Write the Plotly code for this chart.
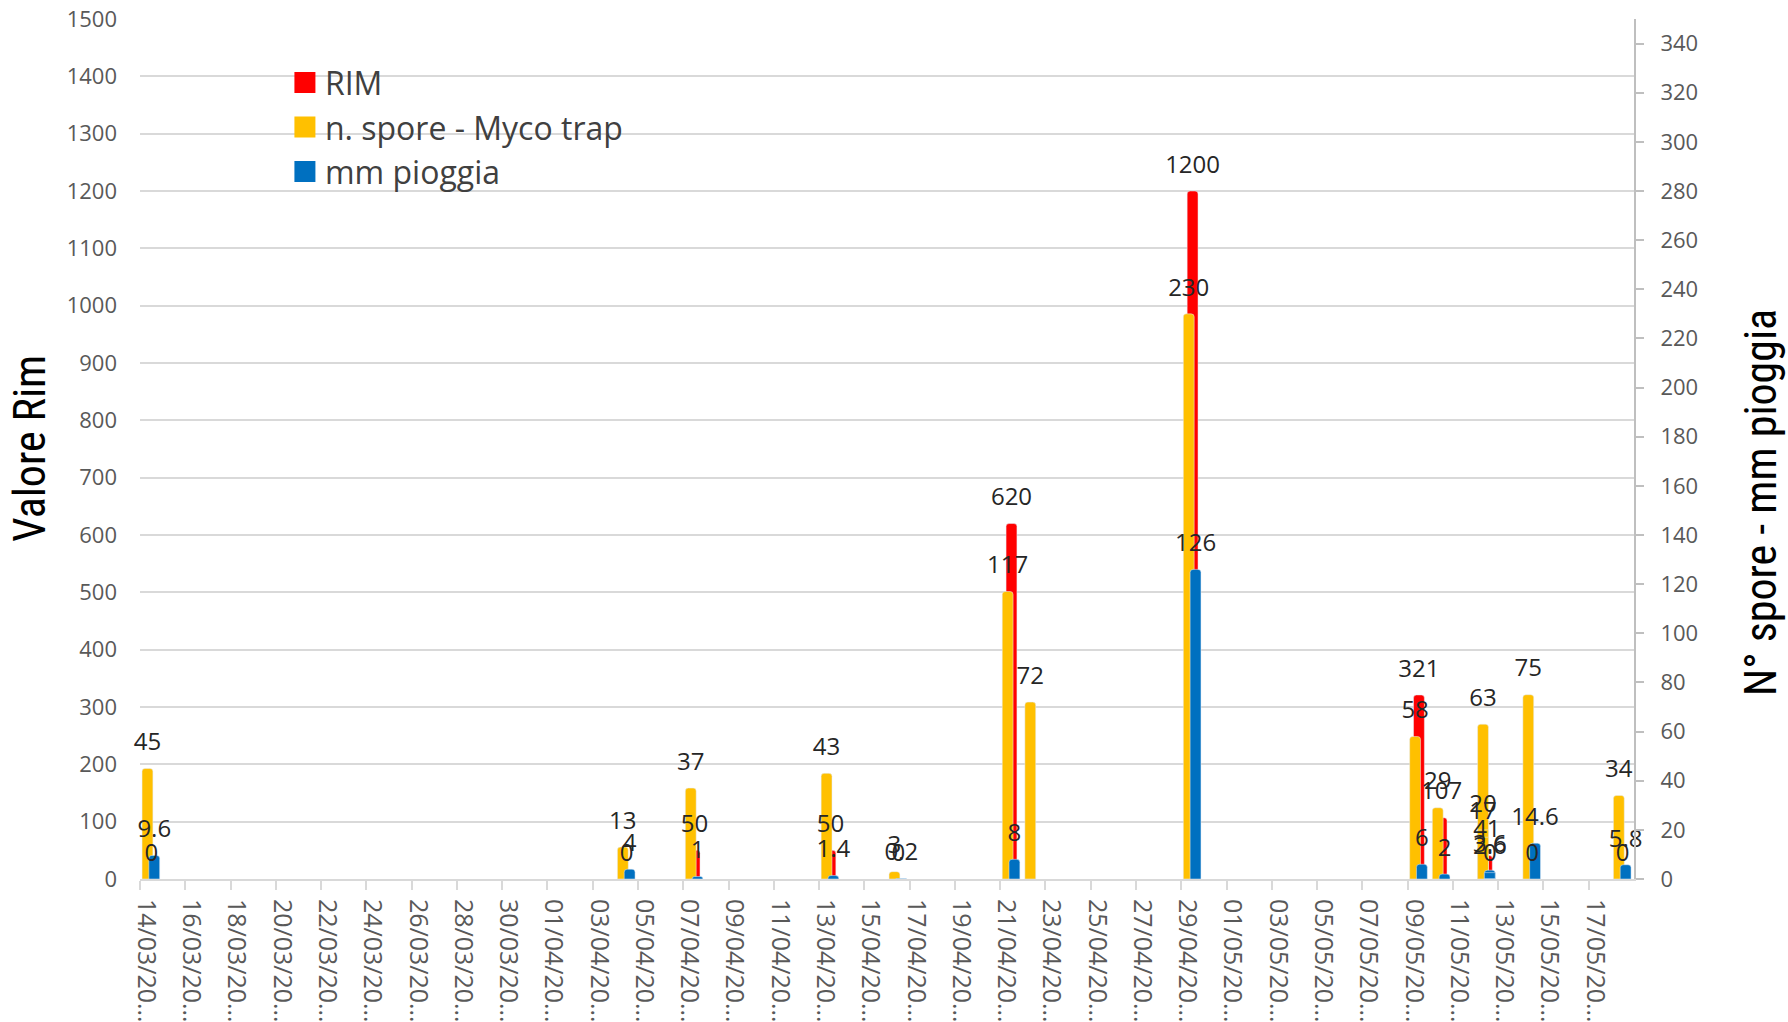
import pandas as pd
import plotly.graph_objects as go

# ---------------- data ----------------
dates = ["2020-03-14", "2020-04-04", "2020-04-07", "2020-04-13", "2020-04-16",
         "2020-04-21", "2020-04-22", "2020-04-29", "2020-05-09", "2020-05-10",
         "2020-05-12", "2020-05-12", "2020-05-12", "2020-05-14", "2020-05-18"]
rim = [0, 0, 50, 50, 0, 620, None, 1200, 321, 107, 41, None, None, 0, 0]
spore = [45, 13, 37, 43, 3, 117, 72, 230, 58, 29, 63, 20, 17, 75, 34]
rain = [9.6, 4, 1, 1.4, 0.2, 8, None, 126, 6, 2, 3.6, 2.6, 0, 14.6, 5.8]

tick_days = ["14/03", "16/03", "18/03", "20/03", "22/03", "24/03", "26/03", "28/03",
             "30/03", "01/04", "03/04", "05/04", "07/04", "09/04", "11/04", "13/04",
             "15/04", "17/04", "19/04", "21/04", "23/04", "25/04", "27/04", "29/04",
             "01/05", "03/05", "05/05", "07/05", "09/05", "11/05", "13/05", "15/05",
             "17/05"]
tick_labels = [d + "/20\u2026" for d in tick_days]
tick_vals = [pd.Timestamp(f"2020-{d[3:5]}-{d[0:2]}") for d in tick_days]

x_start, x_end = "2020-03-14", "2020-05-19"

RED, YEL, BLU = "#FF0000", "#FFC000", "#0070C0"
DAY = 86400000.0
BW = 0.48  # bar width in days
OFF = {"rim": 0.0, "spore": -0.17, "rain": 0.13}  # centre shifts (days)

xd = [pd.Timestamp(d) for d in dates]


def fmt(v):
    return "" if v is None else f"{v:g}"


def centers(shift):
    return [d + pd.Timedelta(days=0.5 + shift) for d in xd]


fig = go.Figure()

# bars
fig.add_trace(go.Bar(x=xd, y=rim, name="RIM", marker=dict(color=RED, cornerradius=3),
                     width=BW * DAY, offset=(0.5 + OFF["rim"] - BW / 2) * DAY,
                     yaxis="y", showlegend=False))
fig.add_trace(go.Bar(x=xd, y=spore, name="n. spore - Myco trap", marker=dict(color=YEL, cornerradius=3),
                     width=BW * DAY, offset=(0.5 + OFF["spore"] - BW / 2) * DAY,
                     yaxis="y2", showlegend=False))
fig.add_trace(go.Bar(x=xd, y=rain, name="mm pioggia", marker=dict(color=BLU, cornerradius=3),
                     width=BW * DAY, offset=(0.5 + OFF["rain"] - BW / 2) * DAY,
                     yaxis="y2", showlegend=False))

LBL_FONT = dict(family="Open Sans", size=24, color="#262626")
# data labels
fig.add_trace(go.Scatter(x=centers(OFF["spore"]), y=spore, text=[fmt(v) for v in spore],
                         mode="markers+text", textposition="top center", textfont=LBL_FONT,
                         marker=dict(size=18, opacity=0), yaxis="y2", cliponaxis=False,
                         hoverinfo="skip", showlegend=False))
fig.add_trace(go.Scatter(x=centers(OFF["rain"]), y=rain, text=[fmt(v) for v in rain],
                         mode="markers+text", textposition="top center", textfont=LBL_FONT,
                         marker=dict(size=18, opacity=0), yaxis="y2", cliponaxis=False,
                         hoverinfo="skip", showlegend=False))
fig.add_trace(go.Scatter(x=centers(OFF["rim"]), y=rim, text=[fmt(v) for v in rim],
                         mode="markers+text", textposition="top center", textfont=LBL_FONT,
                         marker=dict(size=18, opacity=0), yaxis="y3", cliponaxis=False,
                         hoverinfo="skip", showlegend=False))

# legend entries
for nm, col, g in [("RIM", RED, "a"), ("n. spore - Myco trap", YEL, "b"), ("mm pioggia", BLU, "c")]:
    fig.add_trace(go.Scatter(x=[None], y=[None], mode="markers", name=nm, legendgroup=g,
                             marker=dict(symbol="square", size=16, color=col,
                                         line=dict(color=col, width=5))))

GRID = "#d9d9d9"
TICKF = dict(family="Open Sans", size=22, color="#595959")
TITLEF = dict(family="Liberation Sans Narrow, Roboto Condensed, Open Sans", size=44, color="#000000")

fig.update_layout(
    width=1788, height=1022,
    margin=dict(l=140, r=154, t=19, b=143, pad=0, autoexpand=False),
    paper_bgcolor="white", plot_bgcolor="white",
    barmode="overlay",
    showlegend=True,
    legend=dict(x=0.097, y=0.958, xanchor="left", yanchor="top", bgcolor="rgba(0,0,0,0)",
                font=dict(family="Open Sans", size=32, color="#404040"),
                tracegroupgap=0, traceorder="normal"),
    xaxis=dict(type="date", range=[x_start, x_end], tickvals=tick_vals, ticktext=tick_labels,
               tickangle=90, ticks="outside", ticklen=9, tickwidth=2, tickcolor=GRID,
               showline=True, linecolor=GRID, linewidth=2, showgrid=False, zeroline=False,
               tickfont=dict(family="Open Sans", size=25, color="#595959"),
               ticklabelstandoff=4, ticklabelshift=6, automargin=False),
    yaxis=dict(range=[0, 1500], dtick=100, tick0=0, showgrid=True, gridcolor=GRID, gridwidth=2,
               zeroline=False, showline=False, ticks="", tickfont=TICKF, ticklabelstandoff=22,
               automargin=False),
    yaxis2=dict(range=[0, 350], dtick=20, tick0=0, overlaying="y", side="right", showgrid=False,
                zeroline=False, showline=True, linecolor="#bfbfbf", linewidth=2,
                ticks="outside", ticklen=8, tickwidth=2, tickcolor="#bfbfbf", tickfont=TICKF,
                ticklabelstandoff=12, automargin=False),
    yaxis3=dict(range=[0, 1500], overlaying="y", visible=False),
    annotations=[
        dict(text="Valore Rim", textangle=-90, xref="paper", yref="paper",
             x=-0.0736, y=0.5, xanchor="center", yanchor="middle", showarrow=False,
             font=TITLEF),
        dict(text="N° spore - mm pioggia", textangle=-90, xref="paper", yref="paper",
             x=1.0855, y=0.438, xanchor="center", yanchor="middle", showarrow=False,
             font=TITLEF),
    ],
)

fig.write_html("out.html", config={"displayModeBar": False},
               post_script="document.body.style.margin='0';")
